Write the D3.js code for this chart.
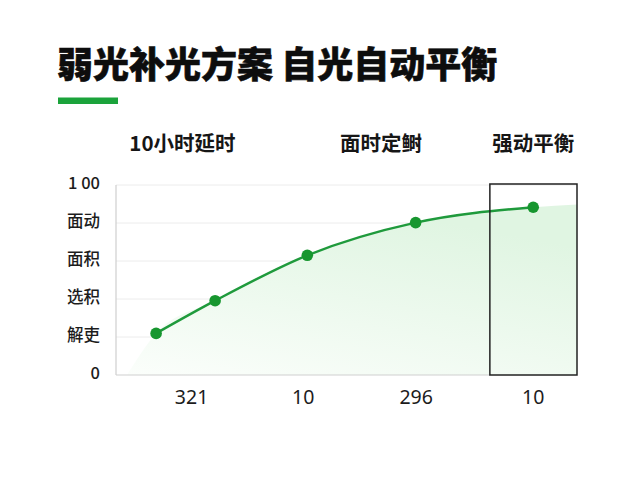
<!DOCTYPE html>
<html>
<head>
<meta charset="utf-8">
<script src="https://cdn.jsdelivr.net/npm/d3@7"></script>
<style>
  html, body { margin: 0; padding: 0; background: #fff; }
  svg { display: block; }
</style>
</head>
<body>
<script>
const width = 640;
const height = 480;

// chart data
const title = "弱光补光方案 自光自动平衡";
const headers = ["10小时延时", "面时定鲥", "强动平衡"];
const pointX = [8.7, 21.5, 41.5, 65.0, 90.5];
const pointY = [21.9, 39.1, 63.0, 80.2, 88.3];
const areaStartX = 2.4;
const areaEnd = [100, 89.7];
const yTicks = [0, 20, 40, 60, 80, 100];
const yTickLabels = ["0", "解吏", "选积", "面积", "面动", "1 00"];
const xTicks = [16.4, 40.6, 65.1, 90.5];
const xTickLabels = ["321", "10", "296", "10"];
const highlightFrom = 81.1;

// layout
const plot = { left: 116, right: 577, top: 185, bottom: 375 };
const headerAt = [14.4, 57.5, 90.5];

const svg = d3
  .select("body")
  .append("svg")
  .attr("width", width)
  .attr("height", height)
  .attr("viewBox", [0, 0, width, height]);

const x = d3.scaleLinear().domain([0, 100]).range([plot.left, plot.right]);
const y = d3.scaleLinear().domain([0, 100]).range([plot.bottom, plot.top]);

// title + accent bar
svg.append("text")
  .attr("x", 57)
  .attr("y", 78)
  .attr("font-family", "'Noto Sans CJK SC', sans-serif")
  .attr("font-weight", 900)
  .attr("font-size", 36)
  .attr("fill", "#0d0d0d")
  .attr("stroke", "#0d0d0d")
  .attr("stroke-width", 0.6)
  .text(title);

svg.append("rect")
  .attr("x", 58)
  .attr("y", 97.5)
  .attr("width", 60)
  .attr("height", 6.5)
  .attr("fill", "#1ba33b");

// column headers
svg.append("g")
  .selectAll("text")
  .data(headers)
  .join("text")
  .attr("x", (d, i) => x(headerAt[i]))
  .attr("y", 151)
  .attr("text-anchor", "middle")
  .attr("font-family", "'Noto Sans CJK SC', sans-serif")
  .attr("font-weight", 700)
  .attr("font-size", 20.5)
  .attr("fill", "#161616")
  .text((d) => d);

// gradient for the area
const defs = svg.append("defs");
const grad = defs.append("linearGradient")
  .attr("id", "areaFill")
  .attr("x1", 0).attr("y1", 1)
  .attr("x2", 0.5).attr("y2", 0);
grad.append("stop").attr("offset", "0%").attr("stop-color", "#fbfefb");
grad.append("stop").attr("offset", "100%").attr("stop-color", "#e0f5e2");

// gridlines
svg.append("g")
  .selectAll("line")
  .data(yTicks.slice(1))
  .join("line")
  .attr("x1", plot.left)
  .attr("x2", plot.right)
  .attr("y1", (d) => y(d))
  .attr("y2", (d) => y(d))
  .attr("stroke", "#ececec")
  .attr("stroke-width", 1);

// area
const points = pointX.map((d, i) => [d, pointY[i]]);
const areaPts = [[areaStartX, 0], ...points, areaEnd];
const area = d3.area()
  .x((d) => x(d[0]))
  .y0(y(0))
  .y1((d) => y(d[1]))
  .curve(d3.curveMonotoneX);

svg.append("path")
  .datum(areaPts)
  .attr("d", area)
  .attr("fill", "url(#areaFill)");

// axes lines
svg.append("line")
  .attr("x1", plot.left).attr("x2", plot.left)
  .attr("y1", plot.top).attr("y2", plot.bottom)
  .attr("stroke", "#cfcfcf").attr("stroke-width", 1.2);
svg.append("line")
  .attr("x1", plot.left).attr("x2", x(highlightFrom))
  .attr("y1", plot.bottom).attr("y2", plot.bottom)
  .attr("stroke", "#cfcfcf").attr("stroke-width", 1.2);

// y labels
svg.append("g")
  .selectAll("text")
  .data(yTicks)
  .join("text")
  .attr("x", 100)
  .attr("y", (d) => y(d) + 4)
  .attr("text-anchor", "end")
  .attr("font-family", "'Noto Sans CJK SC', sans-serif")
  .attr("font-weight", 500)
  .attr("font-size", 16.5)
  .attr("fill", "#1c1c1c")
  .text((d, i) => yTickLabels[i]);

// x labels
svg.append("g")
  .selectAll("text")
  .data(xTicks)
  .join("text")
  .attr("x", (d) => x(d))
  .attr("y", 404)
  .attr("text-anchor", "middle")
  .attr("font-family", "'Noto Sans', sans-serif")
  .attr("font-size", 19.5)
  .attr("fill", "#1c1c1c")
  .text((d, i) => xTickLabels[i]);

// line
const line = d3.line()
  .x((d) => x(d[0]))
  .y((d) => y(d[1]))
  .curve(d3.curveMonotoneX);

svg.append("path")
  .datum(points)
  .attr("d", line)
  .attr("fill", "none")
  .attr("stroke", "#1f9a3c")
  .attr("stroke-width", 2.5);

svg.append("g")
  .selectAll("circle")
  .data(points)
  .join("circle")
  .attr("cx", (d) => x(d[0]))
  .attr("cy", (d) => y(d[1]))
  .attr("r", 5.8)
  .attr("fill", "#17962f");

// highlight box
svg.append("rect")
  .attr("x", x(highlightFrom))
  .attr("y", y(100) - 1)
  .attr("width", x(100) - x(highlightFrom))
  .attr("height", y(0) - y(100) + 1)
  .attr("fill", "none")
  .attr("stroke", "#222")
  .attr("stroke-width", 1.5);
</script>
</body>
</html>
